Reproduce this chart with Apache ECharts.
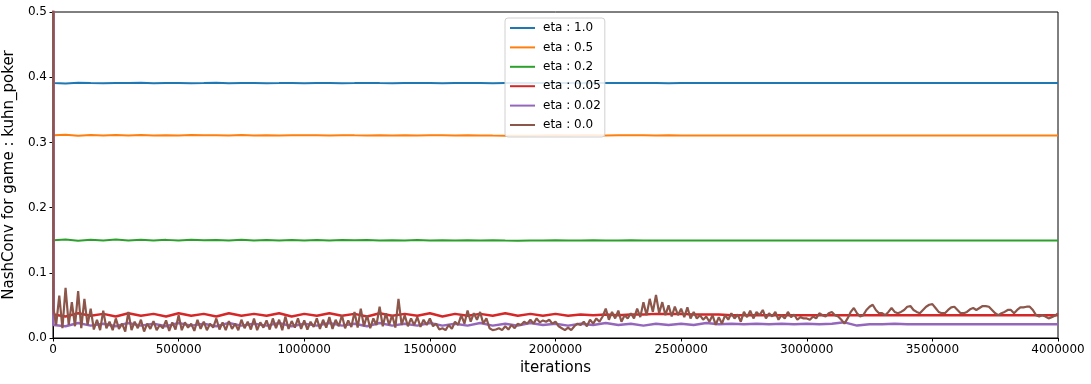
<!DOCTYPE html>
<html>
<head>
<meta charset="utf-8">
<script src="https://cdn.jsdelivr.net/npm/echarts@6/dist/echarts.min.js"></script>
<style>
  html, body { margin: 0; padding: 0; background: #fff; }
  #chart { width: 1091px; height: 384px; }
</style>
</head>
<body>
<div id="chart"></div>
<script>
// NashConv curves for kuhn_poker, one per eta
const etaLabels = ["eta : 1.0", "eta : 0.5", "eta : 0.2", "eta : 0.05", "eta : 0.02", "eta : 0.0"];
const colors = ["#1f77b4", "#ff7f0e", "#2ca02c", "#d62728", "#9467bd", "#8c564b"];

// every curve starts off the top of the plot at iteration 0
const initialNashConv = 0.92;

// sampled every 50000 iterations
const eta10 = [
  0.391,0.3905,0.3915,0.391,0.3908,0.3912,0.391,0.3914,0.3906,0.391,
  0.3912,0.3908,0.391,0.3913,0.3907,0.391,0.3911,0.3909,0.391,0.3912,
  0.3908,0.391,0.3911,0.3909,0.391,0.3912,0.391,0.3909,0.391,0.3911,
  0.391,0.3909,0.3911,0.391,0.391,0.3909,0.391,0.3911,0.391,0.391,
  0.391,0.391,0.3909,0.391,0.3911,0.391,0.391,0.391,0.391,0.3909,
  0.391,0.391,0.391,0.391,0.391,0.391,0.391,0.391,0.391,0.391,
  0.391,0.391,0.391,0.391,0.391,0.391,0.391,0.391,0.391,0.391,
  0.391,0.391,0.391,0.391,0.391,0.391,0.391,0.391,0.391,0.391,0.391
];
const eta05 = [
  0.311,0.3118,0.3102,0.3114,0.3106,0.3112,0.3104,0.3113,0.3107,0.3111,
  0.3105,0.3112,0.3108,0.311,0.3104,0.3112,0.3107,0.311,0.3106,0.3111,
  0.3108,0.311,0.3105,0.3111,0.3108,0.3106,0.311,0.3107,0.3109,0.3106,
  0.3108,0.311,0.3106,0.3109,0.3107,0.3104,0.3102,0.3101,0.3103,0.3106,
  0.3108,0.3107,0.3109,0.3108,0.3107,0.3108,0.3109,0.3108,0.3107,0.3108,
  0.3107,0.3106,0.3107,0.3107,0.3106,0.3106,0.3107,0.3106,0.3106,0.3106,
  0.3106,0.3105,0.3106,0.3106,0.3105,0.3105,0.3106,0.3105,0.3105,0.3105,
  0.3105,0.3105,0.3105,0.3105,0.3105,0.3105,0.3105,0.3104,0.3104,0.3104,0.3104
];
const eta02 = [
  0.15,0.1512,0.1492,0.1508,0.1496,0.151,0.1494,0.1506,0.1497,0.1505,
  0.1495,0.1507,0.1498,0.1504,0.1496,0.1506,0.1497,0.1503,0.1495,0.1504,
  0.1497,0.1503,0.1496,0.1502,0.1498,0.1503,0.1496,0.1501,0.1497,0.1502,
  0.1496,0.1501,0.1497,0.1499,0.1496,0.15,0.1494,0.1492,0.1495,0.1496,
  0.1498,0.1496,0.1497,0.1498,0.1496,0.1497,0.1498,0.1496,0.1495,0.1497,
  0.1496,0.1497,0.1496,0.1495,0.1496,0.1497,0.1496,0.1495,0.1496,0.1496,
  0.1495,0.1496,0.1496,0.1495,0.1496,0.1496,0.1496,0.1495,0.1496,0.1496,
  0.1496,0.1497,0.1497,0.1497,0.1497,0.1497,0.1497,0.1497,0.1497,0.1497,0.1497
];
const eta005 = [
  0.036,0.033,0.038,0.034,0.037,0.033,0.038,0.034,0.037,0.033,
  0.038,0.034,0.037,0.033,0.038,0.034,0.037,0.034,0.038,0.033,
  0.037,0.034,0.038,0.034,0.037,0.033,0.038,0.034,0.037,0.034,
  0.038,0.033,0.037,0.034,0.037,0.034,0.038,0.034,0.037,0.034,
  0.037,0.034,0.036,0.035,0.036,0.035,0.036,0.036,0.037,0.037,
  0.037,0.036,0.036,0.036,0.035,0.035,0.035,0.035,0.035,0.035,
  0.035,0.035,0.035,0.035,0.035,0.035,0.035,0.035,0.035,0.035,
  0.035,0.035,0.035,0.035,0.035,0.035,0.035,0.035,0.035,0.035,0.035
];
const eta002 = [
  0.02,0.018,0.023,0.019,0.022,0.018,0.023,0.019,0.022,0.018,
  0.023,0.019,0.022,0.018,0.023,0.019,0.022,0.019,0.023,0.018,
  0.022,0.019,0.023,0.019,0.022,0.018,0.023,0.019,0.022,0.019,
  0.023,0.019,0.022,0.019,0.023,0.019,0.022,0.019,0.023,0.02,
  0.022,0.019,0.022,0.02,0.023,0.02,0.022,0.019,0.022,0.02,
  0.022,0.02,0.023,0.021,0.022,0.021,0.022,0.021,0.022,0.021,
  0.022,0.021,0.022,0.024,0.019,0.021,0.021,0.022,0.021,0.021,
  0.021,0.021,0.021,0.021,0.021,0.021,0.021,0.021,0.021,0.021,0.021
];
// eta 0.0 is much noisier, sampled every 12500 iterations
const eta00 = [
  0.045,0.02,0.065,0.015,0.077,0.02,0.055,0.018,
  0.072,0.015,0.06,0.02,0.045,0.013,0.028,0.012,
  0.042,0.015,0.025,0.012,0.03,0.014,0.022,0.01,
  0.04,0.012,0.025,0.015,0.028,0.01,0.022,0.014,
  0.026,0.012,0.02,0.015,0.027,0.011,0.024,0.013,
  0.035,0.012,0.024,0.016,0.022,0.011,0.028,0.014,
  0.025,0.012,0.022,0.016,0.03,0.013,0.024,0.012,
  0.026,0.014,0.022,0.012,0.028,0.015,0.025,0.013,
  0.03,0.012,0.024,0.016,0.027,0.013,0.03,0.015,
  0.028,0.012,0.033,0.014,0.026,0.016,0.03,0.014,
  0.027,0.013,0.025,0.017,0.03,0.014,0.028,0.016,
  0.032,0.014,0.028,0.018,0.035,0.015,0.027,0.017,
  0.04,0.016,0.045,0.018,0.035,0.015,0.03,0.02,
  0.048,0.018,0.038,0.02,0.035,0.016,0.06,0.02,
  0.035,0.018,0.03,0.02,0.032,0.017,0.028,0.02,
  0.03,0.018,0.022,0.013,0.015,0.012,0.02,0.014,
  0.025,0.02,0.035,0.022,0.042,0.025,0.038,0.028,
  0.04,0.022,0.03,0.015,0.012,0.013,0.015,0.012,
  0.018,0.013,0.02,0.015,0.022,0.02,0.025,0.022,
  0.028,0.022,0.03,0.024,0.027,0.025,0.028,0.022,
  0.025,0.018,0.015,0.012,0.016,0.012,0.018,0.022,
  0.02,0.025,0.018,0.028,0.022,0.03,0.025,0.033,
  0.045,0.028,0.04,0.03,0.042,0.025,0.035,0.03,
  0.038,0.03,0.045,0.032,0.055,0.035,0.06,0.04,
  0.066,0.038,0.055,0.035,0.05,0.033,0.048,0.035,
  0.045,0.032,0.047,0.03,0.04,0.03,0.035,0.028,
  0.033,0.025,0.035,0.02,0.032,0.022,0.035,0.028,
  0.038,0.03,0.036,0.025,0.04,0.032,0.042,0.03,
  0.04,0.035,0.043,0.03,0.038,0.033,0.04,0.028,
  0.035,0.03,0.04,0.032,0.036,0.028,0.032,0.03,
  0.030,0.028,0.033,0.030,0.038,0.035,0.033,0.038,0.040,0.035,
  0.033,0.028,0.022,0.030,0.040,0.046,0.038,0.033,0.035,0.043,
  0.048,0.051,0.043,0.038,0.038,0.035,0.040,0.046,0.040,0.038,
  0.040,0.043,0.048,0.049,0.043,0.040,0.038,0.043,0.048,0.051,
  0.052,0.046,0.040,0.038,0.038,0.043,0.047,0.048,0.043,0.038,
  0.038,0.040,0.044,0.046,0.043,0.046,0.049,0.049,0.048,0.043,
  0.038,0.035,0.038,0.040,0.043,0.043,0.038,0.043,0.047,0.047,
  0.048,0.048,0.043,0.035,0.033,0.035,0.033,0.030,0.032,0.034,0.038
];

const seriesValues = [eta10, eta05, eta02, eta005, eta002, eta00];
const seriesSteps = [50000, 50000, 50000, 50000, 50000, 12500];
const lineWidths = [2, 2, 2, 2.5, 2.5, 2.2];

function toPoints(values, step) {
  // first sample sits just after the initial spike
  const pts = [[0, initialNashConv]];
  values.forEach((v, i) => pts.push([i === 0 ? 2000 : i * step, v]));
  return pts;
}

const chart = echarts.init(document.getElementById("chart"));
const font = "DejaVu Sans";

chart.setOption({
  animation: false,
  textStyle: { fontFamily: font },
  grid: {
    left: 53, right: 33, top: 12, bottom: 46,
    outerBoundsMode: "none",
    containLabel: false,
    show: true, borderColor: "#000", borderWidth: 1, backgroundColor: "transparent"
  },
  legend: {
    orient: "vertical",
    left: 505, top: 18,
    icon: "rect",
    itemWidth: 25, itemHeight: 2,
    itemGap: 7.4,
    padding: [4, 4, 6, 5],
    backgroundColor: "rgba(255,255,255,0.85)",
    borderColor: "#d0d0d0", borderWidth: 1, borderRadius: 3,
    textStyle: { fontFamily: font, fontSize: 12, color: "#000", padding: [0, 0, 0, 3] },
    data: etaLabels
  },
  xAxis: {
    type: "value",
    min: 0, max: 4000000, interval: 500000,
    name: "iterations",
    nameLocation: "middle",
    nameGap: 22,
    nameTextStyle: { fontFamily: font, fontSize: 15, color: "#000" },
    axisLine: { onZero: false, lineStyle: { color: "#000" } },
    axisTick: { length: 3.5, lineStyle: { color: "#000" } },
    axisLabel: { color: "#000", fontSize: 12, margin: 6, formatter: v => String(v) },
    splitLine: { show: false }
  },
  yAxis: {
    type: "value",
    min: 0, max: 0.5, interval: 0.1,
    name: "NashConv for game : kuhn_poker",
    nameLocation: "middle",
    nameGap: 32,
    nameTextStyle: { fontFamily: font, fontSize: 15, color: "#000" },
    axisLine: { show: true, lineStyle: { color: "#000" } },
    axisTick: { show: true, length: 3.5, lineStyle: { color: "#000" } },
    axisLabel: { color: "#000", fontSize: 12, margin: 6, formatter: v => v.toFixed(1) },
    splitLine: { show: false }
  },
  series: seriesValues.map((vals, i) => ({
    name: etaLabels[i],
    type: "line",
    data: toPoints(vals, seriesSteps[i]),
    showSymbol: false,
    symbol: "none",
    clip: true,
    color: colors[i],
    lineStyle: { width: lineWidths[i], color: colors[i] }
  }))
});
</script>
</body>
</html>
